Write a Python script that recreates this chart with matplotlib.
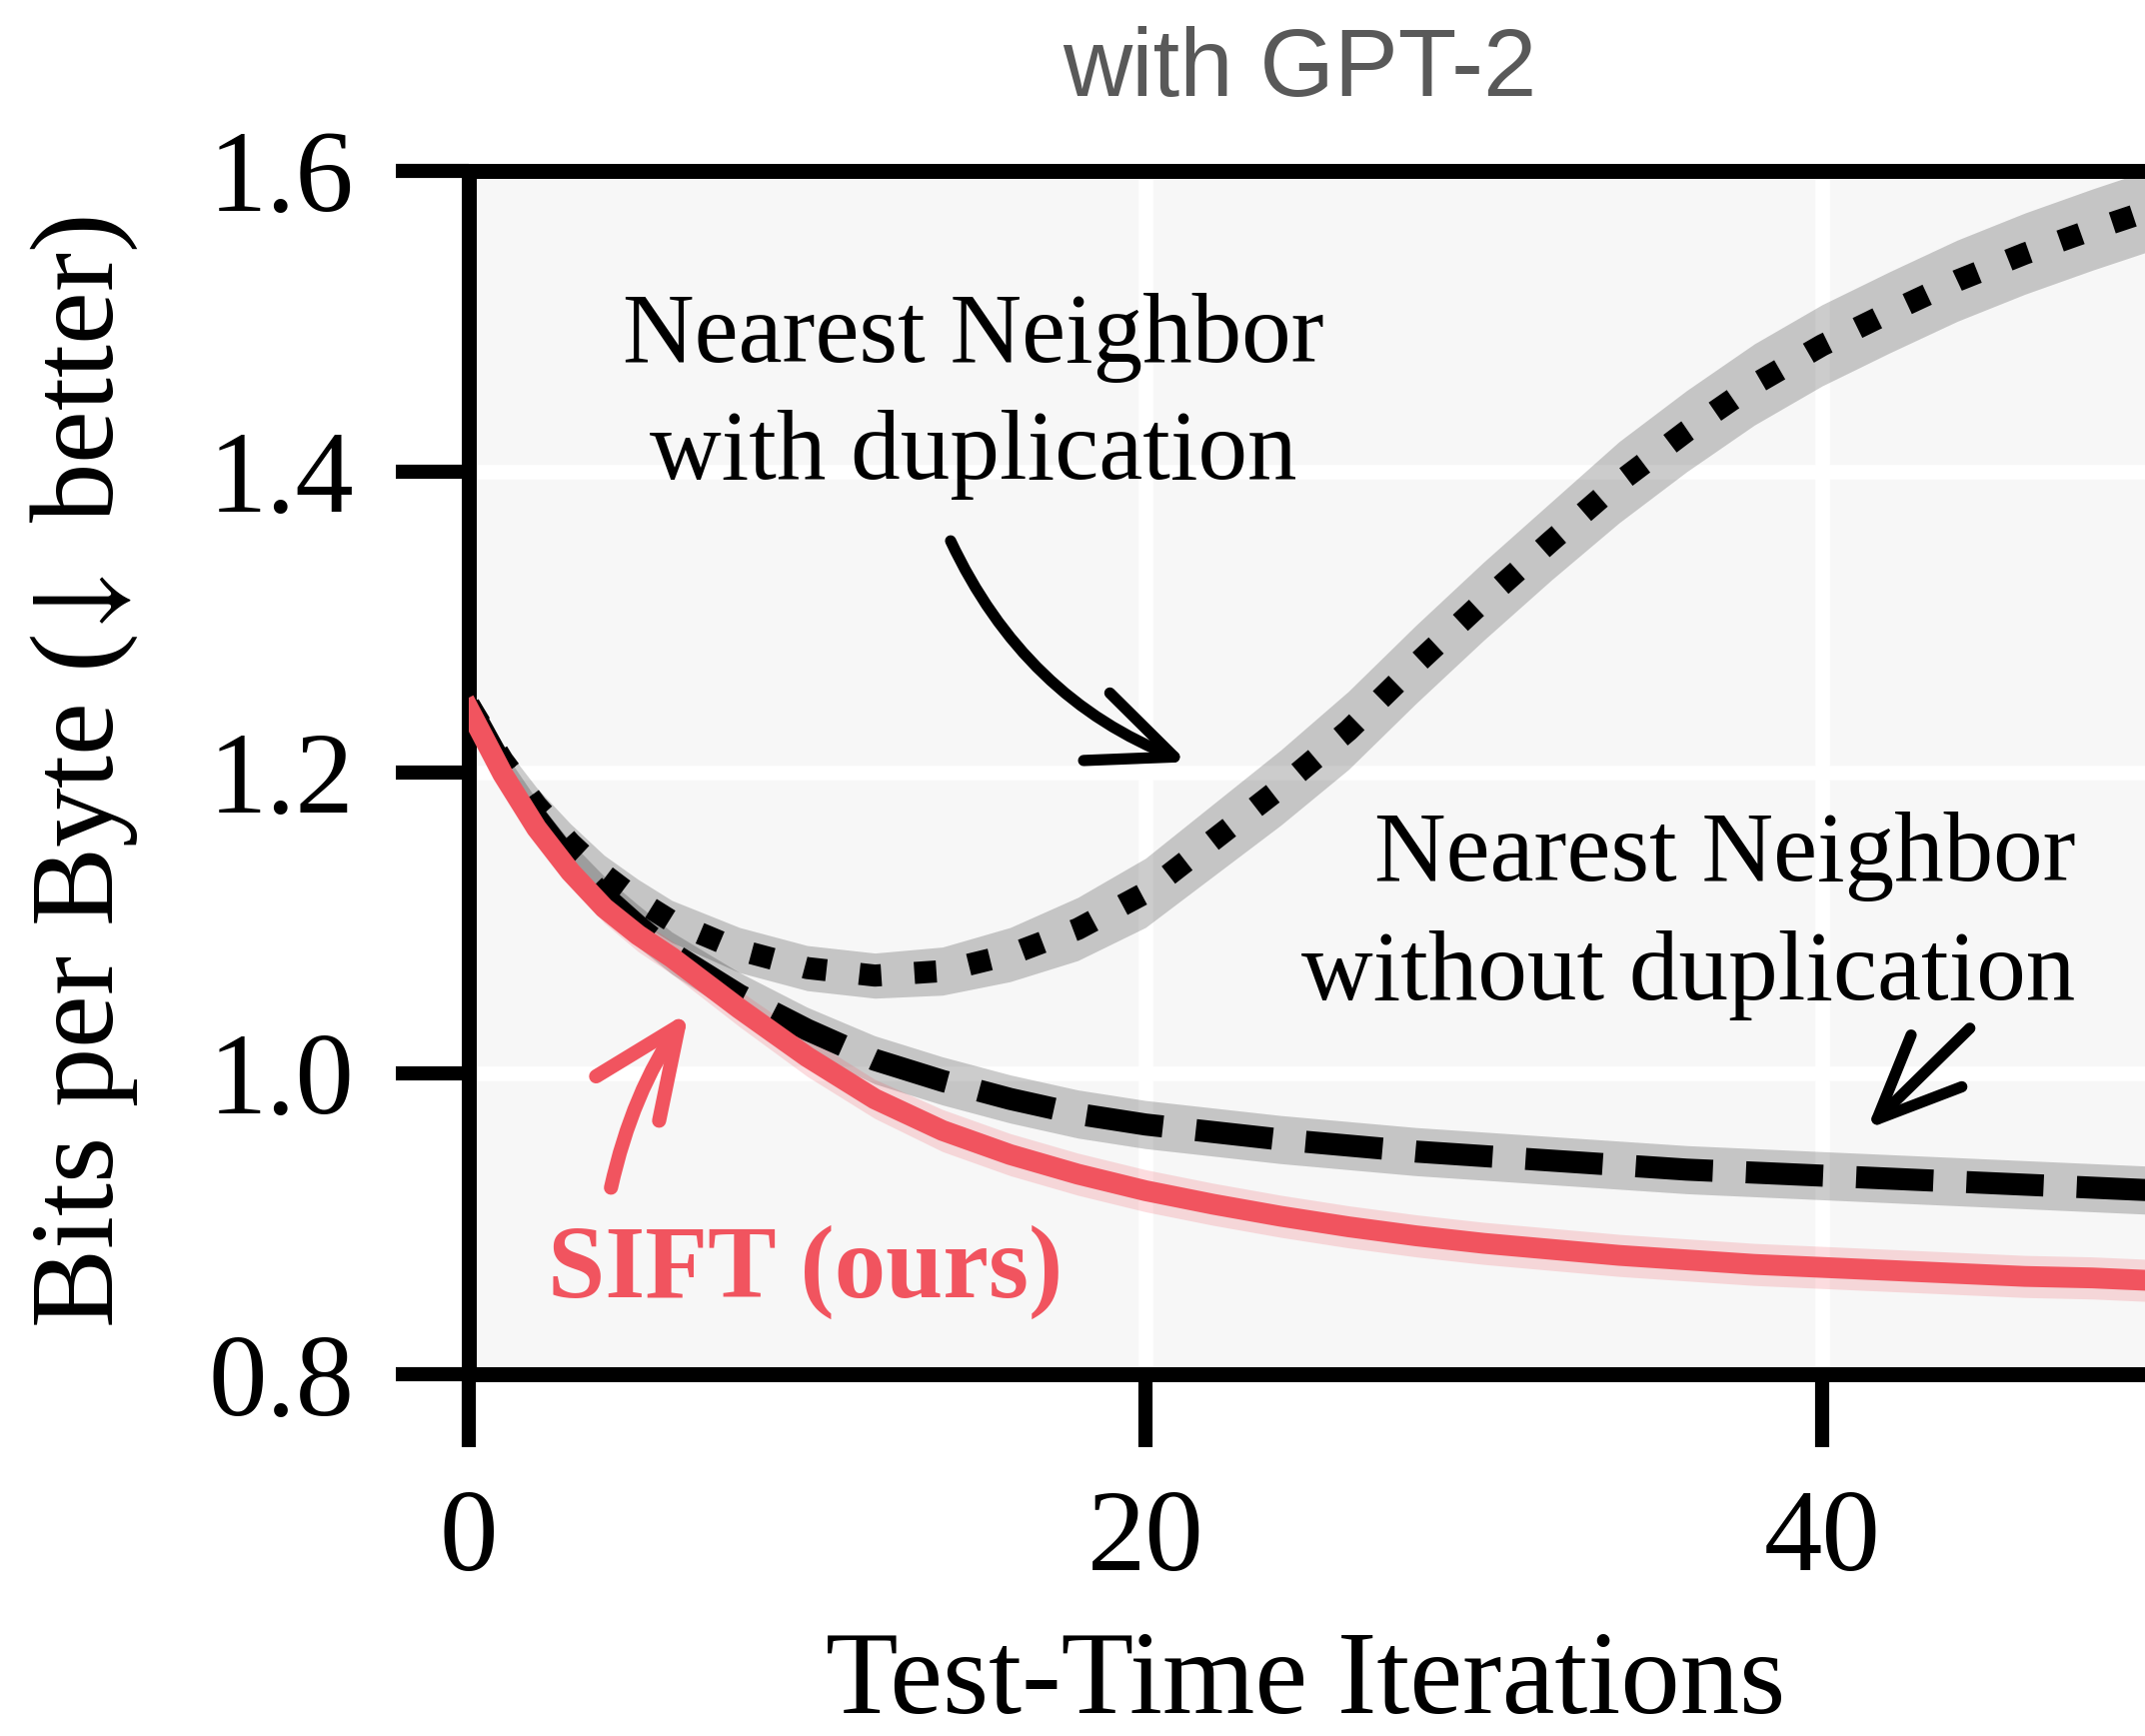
import numpy as np
import matplotlib
matplotlib.use('Agg')
import matplotlib.pyplot as plt

plt.rcParams['font.family'] = ['Liberation Serif', 'DejaVu Serif']
plt.rcParams['mathtext.fontset'] = 'stix'

# Dados (bits per byte por iteração)
iterations = [0, 1, 2, 3, 4, 5, 6, 8, 10, 12, 14, 16, 18, 20, 22, 24,
              26, 28, 30, 32, 34, 36, 38, 40, 42, 44, 46, 48, 50]
nn_dup = [1.245, 1.208, 1.178, 1.153, 1.132, 1.115, 1.101, 1.082, 1.070,
          1.065, 1.068, 1.079, 1.096, 1.120, 1.155, 1.190, 1.228, 1.272,
          1.314, 1.354, 1.393, 1.427, 1.458, 1.484, 1.506, 1.527, 1.545,
          1.561, 1.576]
nn_nodup = [1.245, 1.204, 1.170, 1.141, 1.118, 1.098, 1.080, 1.052, 1.029,
            1.009, 0.995, 0.983, 0.973, 0.966, 0.961, 0.956, 0.952, 0.948,
            0.945, 0.942, 0.939, 0.936, 0.934, 0.932, 0.930, 0.928, 0.926,
            0.924, 0.922]
sift = [1.242, 1.199, 1.163, 1.134, 1.110, 1.092, 1.077, 1.043, 1.011,
        0.983, 0.962, 0.946, 0.933, 0.922, 0.913, 0.905, 0.898, 0.892,
        0.887, 0.883, 0.879, 0.876, 0.873, 0.871, 0.869, 0.867, 0.865,
        0.864, 0.862]

# largura das bandas (desvio)
nn_dup_std = [0.010, 0.011, 0.012, 0.013, 0.013, 0.014, 0.014, 0.015, 0.015,
              0.015, 0.016, 0.018, 0.021, 0.023, 0.024, 0.025, 0.026, 0.026,
              0.026, 0.026, 0.027, 0.027, 0.027, 0.027, 0.027, 0.027, 0.027,
              0.027, 0.027]
nn_nodup_std = [0.010, 0.011, 0.012, 0.013, 0.013, 0.014, 0.014, 0.015, 0.015,
                0.016, 0.016, 0.016, 0.016, 0.016, 0.016, 0.016, 0.016, 0.016,
                0.016, 0.016, 0.016, 0.016, 0.016, 0.016, 0.016, 0.016, 0.016,
                0.016, 0.016]
sift_std = [0.006, 0.007, 0.008, 0.009, 0.010, 0.011, 0.011, 0.012, 0.013,
            0.013, 0.014, 0.014, 0.014, 0.014, 0.014, 0.014, 0.014, 0.014,
            0.014, 0.014, 0.014, 0.014, 0.014, 0.014, 0.014, 0.014, 0.014,
            0.014, 0.014]

y_ticks = [0.8, 1.0, 1.2, 1.4, 1.6]
x_ticks = [0, 20, 40]

RED = '#f1545f'

x = np.array(iterations)
fig = plt.figure(figsize=(2146 / 300, 1737 / 300), dpi=300)
ax = fig.add_axes([0.2186, 0.2084, 0.7838, 0.6932])
ax.set_facecolor('#f7f7f7')
ax.set_axisbelow(True)
ax.grid(True, color='white', linewidth=3.5)

# bandas
for mean, std, col in [(nn_dup, nn_dup_std, 'black'),
                       (nn_nodup, nn_nodup_std, 'black'),
                       (sift, sift_std, RED)]:
    m = np.array(mean)
    s = np.array(std)
    ax.fill_between(x, m - s, m + s, color=col, alpha=0.2, linewidth=0, zorder=2)

# curvas
ax.plot(x, nn_dup, color='black', linewidth=5.3, linestyle=(0, (1, 1.5)), zorder=3)
ax.plot(x, nn_nodup, color='black', linewidth=5.3, linestyle=(0, (3.5, 1.5)), zorder=3)
ax.plot(x, sift, color=RED, linewidth=5.0, zorder=4)

ax.set_xlim(0, 49.7)
ax.set_ylim(0.8, 1.6)
ax.set_xticks(x_ticks)
ax.set_yticks(y_ticks)
ax.set_yticklabels([f'{v:.1f}' for v in y_ticks])
ax.tick_params(length=17.5, width=3.4, pad=10, labelsize=28, color='black')
for side in ['left', 'bottom', 'top', 'right']:
    ax.spines[side].set_linewidth(3.6)
    ax.spines[side].set_color('black')

ax.set_title('with GPT-2', fontsize=23, color='#595959',
             family=['Liberation Sans', 'DejaVu Sans'], pad=18, x=0.494)
ax.set_xlabel('Test-Time Iterations', fontsize=28.5)
ax.xaxis.set_label_coords(0.4976, -0.213)
ax.set_ylabel(r'Bits per Byte ($\!\downarrow$ better)', fontsize=28.5)
ax.yaxis.set_label_coords(-0.1956, 0.5)

# anotações
ax.text(14.9, 1.45, 'Nearest Neighbor\nwith duplication', fontsize=23.8,
        ha='center', va='center', linespacing=1.4, zorder=5)
ax.text(47.5, 1.1045, 'Nearest Neighbor\nwithout duplication', fontsize=23.8,
        ha='right', va='center', multialignment='right', linespacing=1.42, zorder=5)
ax.text(9.93, 0.868, 'SIFT (ours)', fontsize=24.7, fontweight='bold',
        color=RED, ha='center', va='center', zorder=5)

head = '->,head_length=0.85,head_width=0.37'
ax.annotate('', xy=(21.24, 1.207), xytext=(14.24, 1.354),
            arrowprops=dict(arrowstyle=head, color='black', lw=2.7,
                            mutation_scale=23.5, shrinkA=0, shrinkB=0,
                            connectionstyle='arc3,rad=0.2'), zorder=5)
ax.annotate('', xy=(41.33, 0.963), xytext=(44.37, 1.030),
            arrowprops=dict(arrowstyle=head, color='black', lw=2.7,
                            mutation_scale=23.5, shrinkA=0, shrinkB=0), zorder=5)
ax.annotate('', xy=(6.5, 1.041), xytext=(4.2, 0.924),
            arrowprops=dict(arrowstyle=head, color=RED, lw=3.4,
                            mutation_scale=25, shrinkA=0, shrinkB=0,
                            connectionstyle='arc3,rad=-0.1'), zorder=5)

fig.savefig('out.png', dpi=300)
